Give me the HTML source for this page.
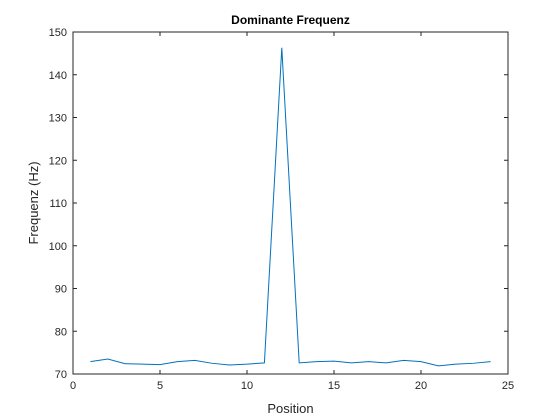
<!DOCTYPE html>
<html><head><meta charset="utf-8"><style>
body{margin:0;background:#fff;}
svg{display:block;font-family:"Liberation Sans",Arial,sans-serif;}
</style></head><body>
<svg id="chart" width="560" height="420"></svg>
<script>
const positions=[1,2,3,4,5,6,7,8,9,10,11,12,13,14,15,16,17,18,19,20,21,22,23,24];
const freqs=[72.9,73.5,72.4,72.3,72.2,72.9,73.2,72.5,72.1,72.3,72.6,146.3,72.6,72.9,73.0,72.6,72.9,72.6,73.2,72.9,71.9,72.3,72.5,72.9];
const xTicks=[0,5,10,15,20,25];
const yTicks=[70,80,90,100,110,120,130,140,150];
const L=73,R=508,T=32,B=374;
const xs=v=>L+(v-0)/25*(R-L);
const ys=v=>B-(v-70)/80*(B-T);
const svg=document.getElementById('chart');
const NS='http://www.w3.org/2000/svg';
function mk(tag,attrs,parent){const e=document.createElementNS(NS,tag);for(const k in attrs)e.setAttribute(k,attrs[k]);(parent||svg).appendChild(e);return e;}
const box=mk('rect',{x:L,y:T,width:R-L,height:B-T,fill:'#fff',stroke:'#262626','stroke-width':1});


xTicks.forEach(t=>{
  const x=xs(t);
  mk('line',{x1:x,x2:x,y1:B,y2:B-4,stroke:'#262626'});
  mk('line',{x1:x,x2:x,y1:T,y2:T+4,stroke:'#262626'});
  const tx=mk('text',{x:x,y:B+15,'text-anchor':'middle','font-size':11,fill:'#262626'});
  tx.textContent=t;
  
  
});
yTicks.forEach(t=>{
  const y=ys(t);
  mk('line',{x1:L,x2:L+4,y1:y,y2:y,stroke:'#262626'});
  mk('line',{x1:R,x2:R-4,y1:y,y2:y,stroke:'#262626'});
  const tx=mk('text',{x:L-6,y:y+4,'text-anchor':'end','font-size':11,fill:'#262626'});
  tx.textContent=t;
  
  
});
const line=mk('polyline',{points:positions.map((p,i)=>xs(p)+','+ys(freqs[i])).join(' '),fill:'none',stroke:'#0072BD','stroke-width':1});


const title=mk('text',{x:(L+R)/2,y:24,'text-anchor':'middle','font-size':12,'font-weight':'bold',fill:'#000'});
title.textContent='Dominante Frequenz';


const xl=mk('text',{x:(L+R)/2,y:413,'text-anchor':'middle','font-size':13,fill:'#262626'});
xl.textContent='Position';


const yl=mk('text',{x:38,y:(T+B)/2,'text-anchor':'middle','font-size':13,fill:'#262626',transform:'rotate(-90 38 '+((T+B)/2)+')'});
yl.textContent='Frequenz (Hz)';


</script>
</body></html>
